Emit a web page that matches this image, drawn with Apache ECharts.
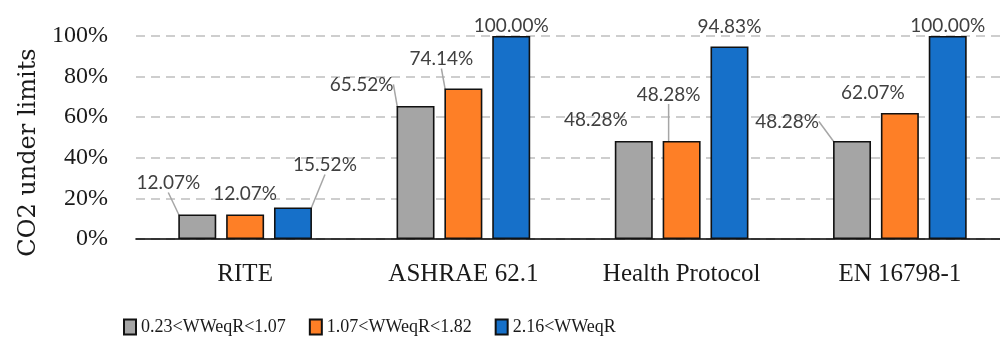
<!DOCTYPE html>
<html>
<head>
<meta charset="utf-8">
<script src="https://cdn.jsdelivr.net/npm/echarts@6/dist/echarts.min.js"></script>
<style>
  html, body { margin: 0; padding: 0; background: #fff; }
  #chart { width: 1000px; height: 343px; }
</style>
</head>
<body>
<div id="chart"></div>
<script>
// Categories and series values (percent of samples with CO2 under limits)
const categories = ['RITE', 'ASHRAE 62.1', 'Health Protocol', 'EN 16798-1'];
const seriesNames = ['0.23<WWeqR<1.07', '1.07<WWeqR<1.82', '2.16<WWeqR'];
const lowValues = [12.07, 65.52, 48.28, 48.28];
const midValues = [12.07, 74.14, 48.28, 62.07];
const highValues = [15.52, 100.00, 94.83, 100.00];
const yTicks = [0, 20, 40, 60, 80, 100];

const colors = ['#a5a5a5', '#fe7f26', '#1670c9'];

// Label nudges (px) relative to the default "top" label spot, per series and category,
// plus whether a leader line is drawn back to the bar.
const labelNudges = [
  [{dx: -29, dy: -17, line: true}, {dx: -54, dy: -7, line: true}, {dx: -38, dy: -7, line: false}, {dx: -65, dy: -5, line: true}],
  [{dx: 0, dy: -6, line: false}, {dx: -22, dy: -15, line: true}, {dx: -13, dy: -32, line: true}, {dx: -27, dy: -6, line: false}],
  [{dx: 32, dy: -28, line: true}, {dx: 0, dy: 4, line: false}, {dx: 0, dy: -5, line: false}, {dx: 0, dy: 4, line: false}]
];

const serif = '"Liberation Serif", "DejaVu Serif", serif';
const wideSerif = '"DejaVu Serif", "Liberation Serif", serif';
const labelFont = 'Lato, "Open Sans", sans-serif';

function makeSeries(idx, values) {
  return {
    name: seriesNames[idx],
    type: 'bar',
    barWidth: '17.4%',
    barGap: '26%',
    itemStyle: { color: colors[idx], borderColor: '#111', borderWidth: 1.6 },
    data: values.map((v, i) => ({
      value: v,
      labelLine: { show: labelNudges[idx][i].line }
    })),
    label: {
      show: true,
      position: 'top',
      distance: 5,
      formatter: p => p.value.toFixed(2) + '%',
      fontFamily: labelFont,
      fontSize: 19,
      color: '#404040'
    },
    labelLine: {
      lineStyle: { color: '#a6a6a6', width: 1.5 }
    },
    labelLayout: p => {
      const n = labelNudges[idx][p.dataIndex];
      return { dx: n.dx, dy: n.dy };
    }
  };
}

const chart = echarts.init(document.getElementById('chart'), null, { renderer: 'canvas' });
chart.setOption({
  animation: false,
  backgroundColor: '#ffffff',
  grid: {
    left: 136, top: 36, width: 873, height: 203,
    containLabel: false,
    outerBoundsMode: 'none'
  },
  legend: {
    data: seriesNames,
    left: 123,
    top: 318,
    padding: 0,
    icon: 'rect',
    itemWidth: 12,
    itemHeight: 15,
    itemGap: 23,
    textStyle: { fontFamily: serif, fontSize: 18, color: '#1a1a1a', width: 148 }
  },
  xAxis: {
    type: 'category',
    data: categories,
    axisLine: { lineStyle: { color: '#000', width: 1.6 } },
    axisTick: { show: false },
    axisLabel: { fontFamily: serif, fontSize: 25, color: '#1a1a1a', margin: 23 }
  },
  yAxis: {
    type: 'value',
    min: yTicks[0],
    max: yTicks[yTicks.length - 1],
    interval: yTicks[1] - yTicks[0],
    name: 'CO2 under limits',
    nameLocation: 'middle',
    nameGap: 95,
    nameRotate: 90,
    nameTextStyle: { fontFamily: wideSerif, fontSize: 24, color: '#1a1a1a', padding: [0, 30, 0, 0] },
    axisLine: { show: false },
    axisTick: { show: false },
    axisLabel: {
      fontFamily: serif, fontSize: 24, color: '#1a1a1a', margin: 28,
      formatter: v => v + '%'
    },
    splitLine: { lineStyle: { color: '#bfbfbf', width: 1.5, type: [9, 6] } }
  },
  series: [
    makeSeries(0, lowValues),
    makeSeries(1, midValues),
    makeSeries(2, highValues)
  ]
});
</script>
</body>
</html>
